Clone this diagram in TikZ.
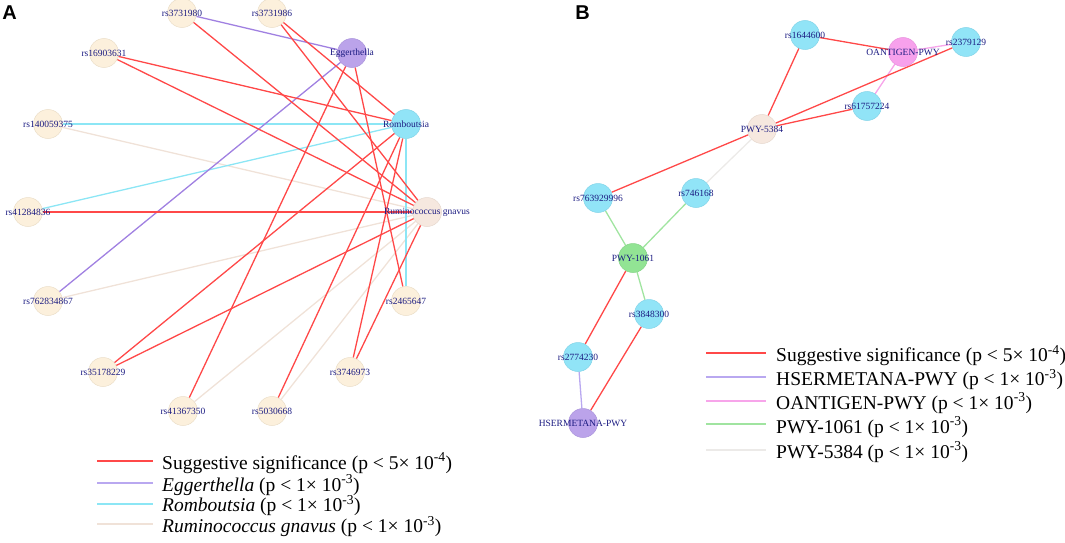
\documentclass[tikz,border=0pt]{standalone}
\usepackage{fontspec}
\setmainfont{Liberation Serif}
\newfontfamily\panelfont{Liberation Sans}
\pgfdeclarelayer{edges}
\pgfsetlayers{edges,main}
\definecolor{navytxt}{RGB}{28,28,130}
\definecolor{cream}{RGB}{252,240,220}
\definecolor{creamD}{RGB}{235,222,200}
\definecolor{lilac}{RGB}{187,163,234}
\definecolor{lilacD}{RGB}{170,148,220}
\definecolor{skyc}{RGB}{145,228,247}
\definecolor{skycD}{RGB}{130,212,232}
\definecolor{blush}{RGB}{246,232,223}
\definecolor{blushD}{RGB}{230,216,206}
\definecolor{orchid}{RGB}{247,161,236}
\definecolor{orchidD}{RGB}{232,146,222}
\definecolor{mint}{RGB}{146,228,148}
\definecolor{mintD}{RGB}{132,212,134}
\definecolor{edgered}{RGB}{255,72,72}
\definecolor{edgepurple}{RGB}{160,128,225}
\definecolor{legpurple}{RGB}{185,168,240}
\definecolor{edgecyan}{RGB}{140,230,245}
\definecolor{edgebeige}{RGB}{240,226,216}
\definecolor{edgepink}{RGB}{247,165,234}
\definecolor{edgegreen}{RGB}{160,228,160}
\definecolor{edgegray}{RGB}{236,234,232}
\tikzset{
  nd/.style={circle, minimum size=29pt, inner sep=0pt, line width=0.5pt},
  lab/.style={text=navytxt, font=\fontsize{9.5}{10}\selectfont, inner sep=0pt},
  snpA/.style={nd, fill=cream, draw=creamD},
  eggN/.style={nd, fill=lilac, draw=lilacD},
  romN/.style={nd, fill=skyc, draw=skycD},
  rumN/.style={nd, fill=blush, draw=blushD},
  snpB/.style={nd, fill=skyc, draw=skycD},
  oantN/.style={nd, fill=orchid, draw=orchidD},
  mintN/.style={nd, fill=mint, draw=mintD},
  ered/.style={draw=edgered, line width=1.3pt},
  epur/.style={draw=edgepurple, line width=1.3pt},
  elil/.style={draw=legpurple, line width=1.3pt},
  ecyan/.style={draw=edgecyan, line width=1.3pt},
  ebeige/.style={draw=edgebeige, line width=1.3pt},
  epink/.style={draw=edgepink, line width=1.3pt},
  egreen/.style={draw=edgegreen, line width=1.3pt},
  egray/.style={draw=edgegray, line width=1.3pt},
  legline/.style={line width=2pt},
  legtxt/.style={anchor=base west, inner sep=0pt, font=\fontsize{19.5}{22}\selectfont},
  paneltag/.style={inner sep=0pt, font=\panelfont\bfseries\fontsize{20}{22}\selectfont},
}
\begin{document}
\begin{tikzpicture}[x=1pt,y=-1pt]
\useasboundingbox (0,0) rectangle (1065,543);
% ---------- Panel A nodes ----------
\node[paneltag] (tagA) at (9.5,12.5) {A};
\node[snpA, label={[lab]center:rs3731980}] (a3731980) at (182,13) {};
\node[snpA, label={[lab]center:rs3731986}] (a3731986) at (272,13) {};
\node[eggN, label={[lab]center:Eggerthella}] (egg) at (352,53) {};
\node[snpA, label={[lab]center:rs16903631}] (a16903631) at (104,53) {};
\node[snpA, label={[lab]center:rs140059375}] (a140059375) at (48,124) {};
\node[romN, label={[lab]center:Romboutsia}] (rom) at (406,124) {};
\node[snpA, label={[lab]center:rs41284836}] (a41284836) at (28,212) {};
\node[rumN, label={[lab]center:Ruminococcus gnavus}] (rum) at (427,212) {};
\node[snpA, label={[lab]center:rs762834867}] (a762834867) at (48,301) {};
\node[snpA, label={[lab]center:rs2465647}] (a2465647) at (406,301) {};
\node[snpA, label={[lab]center:rs35178229}] (a35178229) at (103,372) {};
\node[snpA, label={[lab]center:rs3746973}] (a3746973) at (350,372) {};
\node[snpA, label={[lab]center:rs41367350}] (a41367350) at (183,411) {};
\node[snpA, label={[lab]center:rs5030668}] (a5030668) at (272,411) {};
% ---------- Panel B nodes ----------
\node[paneltag] (tagB) at (582.5,12.5) {B};
\node[snpB, label={[lab]center:rs1644600}] (b1644600) at (805,35) {};
\node[oantN, label={[lab]center:OANTIGEN-PWY}] (oant) at (903,52) {};
\node[snpB, label={[lab]center:rs2379129}] (b2379129) at (966,42) {};
\node[snpB, label={[lab]center:rs61757224}] (b61757224) at (867,106) {};
\node[rumN, label={[lab]center:PWY-5384}] (p5384) at (762,129) {};
\node[snpB, label={[lab]center:rs763929996}] (b763929996) at (598,198) {};
\node[snpB, label={[lab]center:rs746168}] (b746168) at (696,193) {};
\node[mintN, label={[lab]center:PWY-1061}] (p1061) at (633,258) {};
\node[snpB, label={[lab]center:rs3848300}] (b3848300) at (649,314) {};
\node[snpB, label={[lab]center:rs2774230}] (b2774230) at (578,357) {};
\node[eggN, label={[lab]center:HSERMETANA-PWY}] (hser) at (583,423) {};
% ---------- connectors ----------
\begin{pgfonlayer}{edges}
% A: Ruminococcus gnavus
\draw[ebeige] (a140059375) -- (rum);
\draw[ebeige] (a762834867) -- (rum);
\draw[ebeige] (a41367350) -- (rum);
\draw[ebeige] (a5030668) -- (rum);
% A: Romboutsia
\draw[ecyan] (a140059375) -- (rom);
\draw[ecyan] (a41284836) -- (rom);
\draw[ecyan] (rom) -- (a2465647);
% A: Eggerthella
\draw[epur] (a3731980) -- (egg);
\draw[epur] (egg) -- (a762834867);
% A: suggestive
\draw[ered] (a3731980) -- (rum);
\draw[ered] (a3731986) -- (rom);
\draw[ered] (a3731986) -- (rum);
\draw[ered] (a16903631) -- (rom);
\draw[ered] (a16903631) -- (rum);
\draw[ered] (a41284836) -- (rum);
\draw[ered] (egg) -- (a41367350);
\draw[ered] (egg) -- (a2465647);
\draw[ered] (rom) -- (a35178229);
\draw[ered] (rom) -- (a5030668);
\draw[ered] (rom) -- (a3746973);
\draw[ered] (a35178229) -- (rum);
\draw[ered] (a3746973) -- (rum);
% B
\draw[ered] (b1644600) -- (oant);
\draw[epink] (oant) -- (b2379129);
\draw[epink] (oant) -- (b61757224);
\draw[ered] (b1644600) -- (p5384);
\draw[ered] (b2379129) -- (p5384);
\draw[ered] (b61757224) -- (p5384);
\draw[ered] (p5384) -- (b763929996);
\draw[egray] (p5384) -- (b746168);
\draw[egreen] (b763929996) -- (p1061);
\draw[egreen] (b746168) -- (p1061);
\draw[egreen] (p1061) -- (b3848300);
\draw[ered] (p1061) -- (b2774230);
\draw[ered] (b3848300) -- (hser);
\draw[elil] (b2774230) -- (hser);
\end{pgfonlayer}
% ---------- Legend A ----------
\draw[legline, edgered] (97,460.7) -- (153,460.7);
\draw[legline, legpurple] (97,482.7) -- (153,482.7);
\draw[legline, edgecyan] (97,503.5) -- (153,503.5);
\draw[legline, edgebeige] (97,524.3) -- (153,524.3);
\node[legtxt] (lgA1) at (162,469) {Suggestive significance (p < 5× 10\textsuperscript{-4})};
\node[legtxt] (lgA2) at (162,491) {\textit{Eggerthella} (p < 1× 10\textsuperscript{-3})};
\node[legtxt] (lgA3) at (162,511.8) {\textit{Romboutsia} (p < 1× 10\textsuperscript{-3})};
\node[legtxt] (lgA4) at (162,532.6) {\textit{Ruminococcus gnavus} (p < 1× 10\textsuperscript{-3})};
% ---------- Legend B ----------
\draw[legline, edgered] (706,353.3) -- (766,353.3);
\draw[legline, legpurple] (706,377.3) -- (766,377.3);
\draw[legline, edgepink] (706,400.7) -- (766,400.7);
\draw[legline, edgegreen] (706,424.3) -- (766,424.3);
\draw[legline, edgegray] (706,449.5) -- (766,449.5);
\node[legtxt] (lgB1) at (776,361.7) {Suggestive significance (p < 5× 10\textsuperscript{-4})};
\node[legtxt] (lgB2) at (776,385.7) {HSERMETANA-PWY (p < 1× 10\textsuperscript{-3})};
\node[legtxt] (lgB3) at (776,409.3) {OANTIGEN-PWY (p < 1× 10\textsuperscript{-3})};
\node[legtxt] (lgB4) at (776,433) {PWY-1061 (p < 1× 10\textsuperscript{-3})};
\node[legtxt] (lgB5) at (776,458) {PWY-5384 (p < 1× 10\textsuperscript{-3})};
\end{tikzpicture}
\end{document}
